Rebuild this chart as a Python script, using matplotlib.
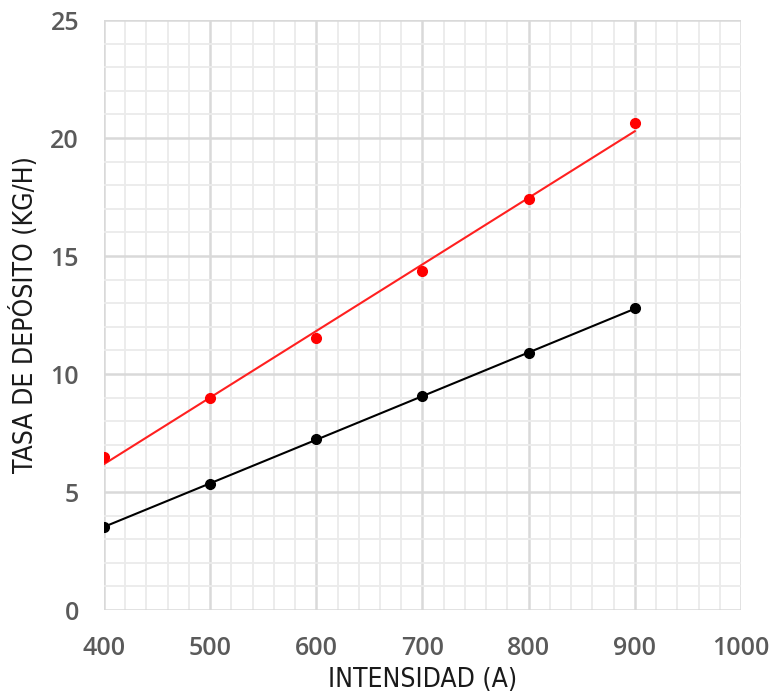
import numpy as np
import matplotlib.pyplot as plt
from matplotlib.ticker import MultipleLocator

# data
intensidad = [400, 500, 600, 700, 800, 900]
tasa_roja = [6.5, 8.97, 11.54, 14.38, 17.4, 20.62]
tasa_negra = [3.53, 5.34, 7.25, 9.07, 10.88, 12.78]

x_ticks = [400, 500, 600, 700, 800, 900, 1000]
y_ticks = [0, 5, 10, 15, 20, 25]

fig = plt.figure(figsize=(7.78, 6.97), dpi=100)
ax = fig.add_axes([0.1337, 0.1248, 0.8187, 0.8465])

# trend lines
xs = np.linspace(min(intensidad), max(intensidad), 100)
red_fit = np.polyfit(intensidad, tasa_roja, 1)
black_fit = np.polyfit(intensidad, tasa_negra, 2)
ax.plot(xs, np.polyval(red_fit, xs), color='#ff2020', linewidth=1.5, zorder=3)
ax.plot(xs, np.polyval(black_fit, xs), color='black', linewidth=1.5, zorder=3)

# points
ax.plot(intensidad, tasa_roja, 'o', color='#ff0000', markersize=7, zorder=4)
ax.plot(intensidad, tasa_negra, 'o', color='black', markersize=7, zorder=4)

ax.set_xlim(400, 1000)
ax.set_ylim(0, 25)
ax.set_xticks(x_ticks)
ax.set_yticks(y_ticks)
ax.xaxis.set_minor_locator(MultipleLocator(20))
ax.yaxis.set_minor_locator(MultipleLocator(1))

ax.grid(which='major', color='#d9d9d9', linewidth=1.8, zorder=1)
ax.grid(which='minor', color='#ebebeb', linewidth=1.3, zorder=0)
ax.set_axisbelow(True)
for s in ax.spines.values():
    s.set_visible(False)

ax.tick_params(which='both', length=0)
ax.tick_params(axis='x', pad=19)
ax.tick_params(axis='y', pad=18)
for lbl in ax.get_xticklabels() + ax.get_yticklabels():
    lbl.set_fontfamily('Open Sans')
    lbl.set_fontsize(18)
    lbl.set_fontweight('semibold')
    lbl.set_color('#5a5a5a')

ax.set_xlabel('INTENSIDAD (A)', fontsize=19, fontfamily='DejaVu Sans',
              fontstretch='condensed', color='#1a1a1a', labelpad=4)
ax.set_ylabel('TASA DE DEPÓSITO (KG/H)', fontsize=19, fontfamily='DejaVu Sans',
              fontstretch='condensed', color='#1a1a1a', labelpad=8)

fig.savefig('out.png', dpi=100)
